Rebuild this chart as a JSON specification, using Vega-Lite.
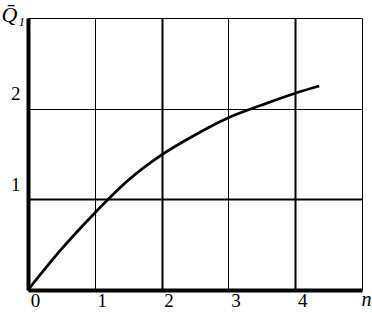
{
  "$schema": "https://vega.github.io/schema/vega-lite/v6.json",
  "width": 334,
  "height": 272,
  "autosize": {"type": "none"},
  "padding": {"left": 28, "top": 18, "right": 10, "bottom": 23},
  "background": "white",
  "config": {
    "view": {"stroke": null},
    "font": "Liberation Serif"
  },
  "data": {
    "values": [
      {"n": 0, "Q": 0},
      {"n": 0.5, "Q": 0.45},
      {"n": 1, "Q": 0.85},
      {"n": 1.5, "Q": 1.21},
      {"n": 2, "Q": 1.49},
      {"n": 2.5, "Q": 1.71},
      {"n": 3, "Q": 1.9},
      {"n": 3.5, "Q": 2.04},
      {"n": 4, "Q": 2.17},
      {"n": 4.36, "Q": 2.25}
    ]
  },
  "mark": {"type": "line", "color": "black", "strokeWidth": 2.8, "interpolate": "monotone", "clip": false},
  "encoding": {
    "x": {
      "field": "n",
      "type": "quantitative",
      "scale": {"domain": [0, 5], "nice": false, "zero": true},
      "axis": {
        "values": [0, 1, 2, 3, 4, 5],
        "labelExpr": "datum.value < 5 ? datum.label : ''",
        "grid": true,
        "gridColor": "black",
        "gridOpacity": 1,
        "gridWidth": {"condition": {"test": "datum.value == 2 || datum.value == 4", "value": 2}, "value": 1},
        "domainColor": "black",
        "domainWidth": 4,
        "ticks": false,
        "labelFont": "Liberation Serif",
        "labelFontSize": 19,
        "labelColor": "black",
        "labelOffset": 7,
        "labelPadding": 1,
        "labelFlush": false,
        "labelOverlap": false,
        "title": "n",
        "titleFont": "Liberation Serif",
        "titleFontStyle": "italic",
        "titleFontWeight": "normal",
        "titleFontSize": 20,
        "titleColor": "black",
        "titleX": 338,
        "titleY": 15,
        "titleAlign": "center",
        "titleBaseline": "alphabetic"
      }
    },
    "y": {
      "field": "Q",
      "type": "quantitative",
      "scale": {"domain": [0, 3], "nice": false, "zero": true},
      "axis": {
        "values": [0, 1, 2, 3],
        "labelExpr": "datum.value == 1 || datum.value == 2 ? datum.label : ''",
        "grid": true,
        "gridColor": "black",
        "gridOpacity": 1,
        "gridWidth": {"condition": {"test": "datum.value == 1", "value": 2}, "value": 1},
        "domainColor": "black",
        "domainWidth": 4,
        "ticks": false,
        "labelFont": "Liberation Serif",
        "labelFontSize": 19,
        "labelColor": "black",
        "labelOffset": -15,
        "labelPadding": 8,
        "labelFlush": false,
        "labelOverlap": false,
        "title": "Q̄₁",
        "titleFont": "Liberation Serif",
        "titleFontStyle": "italic",
        "titleFontWeight": "normal",
        "titleFontSize": 22,
        "titleColor": "black",
        "titleAngle": 0,
        "titleX": -27,
        "titleY": 3,
        "titleAlign": "left",
        "titleBaseline": "alphabetic"
      }
    }
  }
}
